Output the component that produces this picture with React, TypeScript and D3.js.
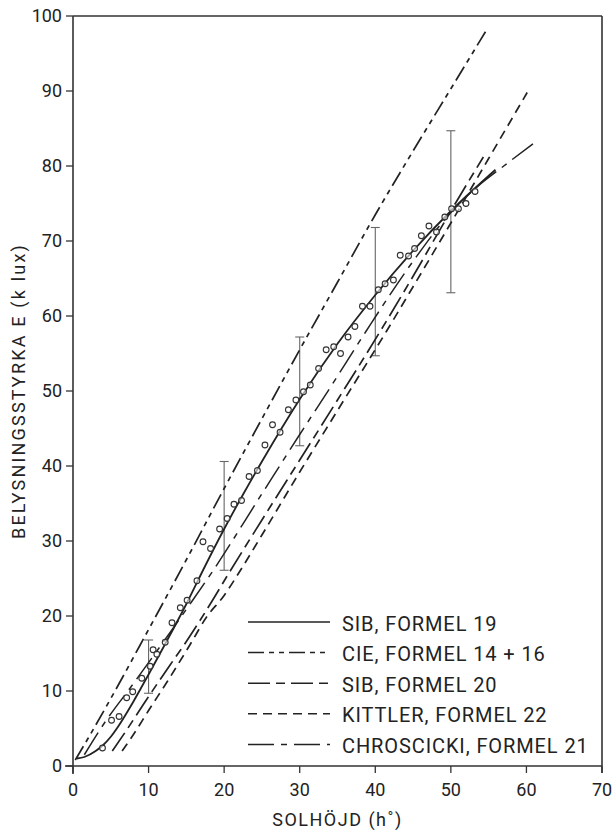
import React from 'react';
import * as d3 from 'd3';

// ---- data ----
const xTicks = [0, 10, 20, 30, 40, 50, 60, 70];
const yTicks = [0, 10, 20, 30, 40, 50, 60, 70, 80, 90, 100];

// SIB, formel 19 (solid)
const sib19: [number, number][] = [
  [0.5, 1.0], [1.5, 1.2], [3, 2.0], [4, 2.8], [5, 3.9], [6, 5.3], [7, 6.9], [8, 8.6], [9, 10.4],
  [10, 12.2], [12, 15.9], [15, 21.6], [17.5, 26.7], [20, 31.6], [22.5, 36.2], [25, 40.6],
  [30, 48.9], [35, 56.3], [40, 62.8], [45, 68.7], [50, 74.0], [55.9, 79.5],
];
// CIE, formel 14 + 16
const cie: [number, number][] = [
  [0.3, 0.8], [2, 3.7], [5, 9.0], [10, 18.2], [15, 27.5], [20, 37.0], [25, 46.3], [30, 55.5],
  [35, 64.5], [40, 73.5], [45, 82.0], [50, 90.3], [54.7, 98.1],
];
// SIB, formel 20
const sib20: [number, number][] = [
  [5.2, 2.0], [7.1, 4.8], [9.7, 8.8], [12.8, 13.4], [15, 16.6], [18.1, 21.5], [20.8, 26.0],
  [25, 32.8], [30, 40.8], [35, 48.8], [40.8, 58.2], [45, 65.3], [50, 74.0], [54.3, 81.2],
];
// Kittler, formel 22
const kittler: [number, number][] = [
  [6.5, 2.0], [8, 4.2], [10, 7.4], [12.5, 11.3], [15.5, 16.2], [17.7, 19.9], [19.9, 22.6],
  [22.1, 26.0], [25, 30.8], [30, 39.2], [35, 47.4], [41.5, 58.0], [45, 63.9], [50, 72.4],
  [55, 81.0], [60.1, 89.8],
];
// Chroscicki, formel 21
const chroscicki: [number, number][] = [
  [1.5, 1.5], [4, 5.5], [8, 11.0], [12, 16.6], [15, 20.9], [18.5, 26.0], [25, 36.3], [30, 44.2],
  [34, 50.4], [38.8, 58.0], [45, 67.3], [50, 73.8], [53, 76.8], [57, 80.0], [61.6, 83.5],
];

// measured values
const obsH = [3.9, 5.1, 6.1, 7.1, 7.9, 9.1, 10.2, 10.6, 11.1, 12.2, 13.1, 14.2, 15.1, 16.4, 17.2, 18.2,
  19.4, 20.4, 21.3, 22.3, 23.3, 24.4, 25.4, 26.4, 27.4, 28.5, 29.5, 30.5, 31.4, 32.5, 33.5, 34.5,
  35.4, 36.4, 37.3, 38.3, 39.3, 40.4, 41.3, 42.4, 43.3, 44.4, 45.2, 46.1, 47.1, 48.1, 49.2, 50.1,
  51.0, 52.0, 53.2];
const obsE = [2.4, 6.1, 6.6, 9.1, 9.9, 11.7, 13.3, 15.5, 14.9, 16.5, 19.1, 21.1, 22.1, 24.7, 29.9, 29.0,
  31.6, 33.0, 34.9, 35.4, 38.6, 39.4, 42.8, 45.5, 44.5, 47.5, 48.8, 49.9, 50.8, 53.0, 55.5, 55.9,
  55.0, 57.2, 58.6, 61.3, 61.3, 63.5, 64.3, 64.8, 68.1, 68.0, 69.0, 70.7, 72.0, 71.2, 73.2, 74.3,
  74.3, 75.0, 76.6];

// error bars
const errH = [10, 20, 30, 40, 50];
const errLow = [9.7, 26.1, 42.7, 54.7, 63.1];
const errHigh = [16.8, 40.6, 57.2, 71.8, 84.7];

const legendLabels = [
  'SIB, FORMEL 19',
  'CIE, FORMEL 14 + 16',
  'SIB, FORMEL 20',
  'KITTLER, FORMEL  22',
  'CHROSCICKI, FORMEL 21',
];

const FONT = "Roboto, 'DejaVu Sans', sans-serif";
const INK = '#222';

export default function App() {
  const W = 612;
  const H = 834;
  const x = d3.scaleLinear().domain([0, 70]).range([73, 602]);
  const y = d3.scaleLinear().domain([0, 100]).range([766, 16]);
  const line = d3
    .line<[number, number]>()
    .x((d) => x(d[0]))
    .y((d) => y(d[1]))
    .curve(d3.curveMonotoneX);

  const series = [
    { data: sib19, dash: undefined as string | undefined, w: 1.8 },
    { data: cie, dash: '16,5,5,5,5,5', w: 1.7 },
    { data: sib20, dash: '22,6,9,6', w: 1.7 },
    { data: kittler, dash: '9,6', w: 1.7 },
    { data: chroscicki, dash: '26,7,6,7', w: 1.5 },
  ];

  const legendX0 = 248;
  const legendX1 = 330;
  const legendY0 = 622;
  const legendStep = 30.6;

  return (
    <svg
      width={W}
      height={H}
      style={{ position: 'absolute', left: 0, top: 0, background: '#fff' }}
      fontFamily={FONT}
    >
      {/* frame */}
      <line x1={x(0)} x2={x(70)} y1={y(100)} y2={y(100)} stroke="#333" strokeWidth={1.6} />
      <line x1={x(70)} x2={x(70)} y1={y(100)} y2={y(0) + 7} stroke="#333" strokeWidth={1.6} />
      <line x1={x(0)} x2={x(0)} y1={y(100)} y2={y(0) + 8} stroke="#333" strokeWidth={1.6} />
      <line x1={x(0) - 8} x2={x(70)} y1={y(0)} y2={y(0)} stroke="#333" strokeWidth={1.6} />

      {/* y ticks */}
      {yTicks.map((t) => (
        <g key={'yt' + t}>
          <line x1={x(0) - 7} x2={x(0)} y1={y(t)} y2={y(t)} stroke="#333" strokeWidth={1.3} />
          <text x={62} y={y(t)} dy="0.36em" textAnchor="end" fontSize={18} fill={INK}>
            {t}
          </text>
        </g>
      ))}
      {/* x ticks */}
      {xTicks.map((t) => (
        <g key={'xt' + t}>
          <line x1={x(t)} x2={x(t)} y1={y(0)} y2={y(0) + 7} stroke="#333" strokeWidth={1.3} />
          <text x={x(t)} y={796} textAnchor="middle" fontSize={18} fill={INK}>
            {t}
          </text>
        </g>
      ))}

      {/* axis titles */}
      <text x={337.5} y={826} textAnchor="middle" fontSize={18} letterSpacing={1.5} fill={INK}>
        SOLHÖJD (h˚)
      </text>
      <text
        transform={`translate(25,${(y(0) + y(100)) / 2}) rotate(-90)`}
        textAnchor="middle"
        fontSize={18}
        letterSpacing={2.2}
        fill={INK}
      >
        BELYSNINGSSTYRKA  E (k lux)
      </text>

      {/* error bars */}
      {errH.map((h, i) => (
        <g key={'eb' + i} stroke="#666" strokeWidth={1.1}>
          <line x1={x(h)} x2={x(h)} y1={y(errLow[i])} y2={y(errHigh[i])} />
          <line x1={x(h) - 4.5} x2={x(h) + 4.5} y1={y(errLow[i])} y2={y(errLow[i])} />
          <line x1={x(h) - 4.5} x2={x(h) + 4.5} y1={y(errHigh[i])} y2={y(errHigh[i])} />
        </g>
      ))}

      {/* curves */}
      {series.map((s, i) => (
        <path
          key={'c' + i}
          d={line(s.data) || ''}
          fill="none"
          stroke={INK}
          strokeWidth={s.w}
          strokeDasharray={s.dash}
        />
      ))}

      {/* observations */}
      {obsH.map((h, i) => (
        <circle
          key={'o' + i}
          cx={x(h)}
          cy={y(obsE[i])}
          r={2.9}
          fill="#fff"
          fillOpacity={0.6}
          stroke="#333"
          strokeWidth={1.1}
        />
      ))}

      {/* legend */}
      {series.map((s, i) => {
        const ly = legendY0 + i * legendStep;
        return (
          <g key={'lg' + i}>
            <line
              x1={legendX0}
              x2={legendX1}
              y1={ly}
              y2={ly}
              stroke={INK}
              strokeWidth={1.5}
              strokeDasharray={s.dash}
            />
            <text x={342} y={ly + 8.5} fontSize={20} letterSpacing={0.9} fill={INK}>
              {legendLabels[i]}
            </text>
          </g>
        );
      })}
    </svg>
  );
}
